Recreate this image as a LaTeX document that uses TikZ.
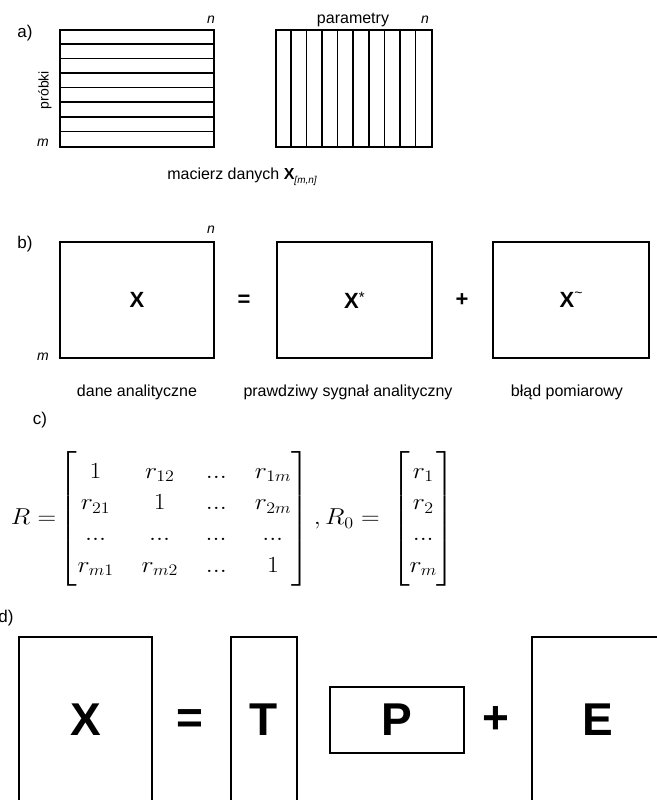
\RequirePackage{fix-cm}
\documentclass[tikz,border=0pt]{standalone}
\usepackage{amsmath}
\usepackage[no-math]{fontspec}
\setmainfont{Liberation Sans}
\usetikzlibrary{positioning}

\begin{document}
\begin{tikzpicture}[
  x=1pt, y=-1pt,
  font=\fontsize{16}{18}\selectfont,
  mat/.style={rectangle, draw=black, line width=1.7pt, inner sep=0pt},
  strip/.style={line width=1.6pt},
  tag/.style={font=\fontsize{17}{19}\selectfont},
  dim/.style={font=\fontsize{14}{16}\selectfont\itshape},
  sym/.style={font=\fontsize{22}{24}\selectfont\bfseries},
  big/.style={font=\fontsize{46}{50}\selectfont\bfseries},
]
\useasboundingbox (0,0) rectangle (656,800);

% a) data matrix, rows and columns
\node[tag] (ta) at (25,33) {a)};
\node[mat, minimum width=154pt, minimum height=117pt] (rows) at (137,88.5) {};
\foreach \k in {1,...,7}
  \draw[strip] ([yshift=-\k*14.625pt]rows.north west) -- ([yshift=-\k*14.625pt]rows.north east);
\node[mat, minimum width=156pt, minimum height=117pt] (cols) at (354,88.5) {};
\foreach \k in {1,...,9}
  \draw[strip] ([xshift=\k*15.6pt]cols.north west) -- ([xshift=\k*15.6pt]cols.south west);

\node[dim] (na) at (211,20) {n};
\node[dim] (ma) at (43,143) {m};
\node[rotate=90, font=\fontsize{14}{16}\selectfont] (probki) at (45,90) {próbki};
\node (par) at (353,20) {parametry};
\node[dim] (nc) at (425,20) {n};
\node (capa) at (242,177) {macierz danych \textbf{X}\raisebox{-0.5ex}{\fontsize{10}{11}\selectfont\itshape [m,n]}};

% b) decomposition
\node[tag] (tb) at (25,244) {b)};
\node[mat, sym, minimum width=154pt, minimum height=116pt] (X) at (137,300) {X};
\node[mat, sym, minimum width=155pt, minimum height=116pt] (Xs) at (354.5,300)
  {X\raisebox{0.5ex}{\fontsize{15}{16}\selectfont\mdseries *}};
\node[mat, sym, minimum width=156pt, minimum height=116pt] (Xt) at (571,300)
  {X\raisebox{0.9ex}{\fontsize{14}{15}\selectfont\mdseries \textasciitilde}};
\node[sym] (eqb) at (244,301) {=};
\node[sym] (plb) at (462,300) {+};
\node[dim] (nX) at (211,230) {n};
\node[dim] (mX) at (43,357) {m};
\node (lx) at (137,392) {dane analityczne};
\node (lxs) at (348,392) {prawdziwy sygnał analityczny};
\node (lxt) at (567,392) {błąd pomiarowy};

% c) correlation matrices
\node[tag] (tc) at (40,420) {c)};
\node[anchor=west, xscale=1.12, transform shape, font=\fontsize{23}{25}\selectfont] (eq) at (7,519)
  {\arraycolsep=12.5pt\renewcommand\arraystretch{1.25}$R=\mkern-3mu\begin{bmatrix}
     1 & r_{12} & ... & r_{1m}\\
     r_{21} & 1 & ... & r_{2m}\\
     ... & ... & ... & ...\\
     r_{m1} & r_{m2} & ... & 1
   \end{bmatrix}, R_0=\,{\arraycolsep=3pt\begin{bmatrix}
     r_1\\ r_2\\ ...\\ r_m
   \end{bmatrix}}$};

% d) PCA model
\node[tag] (td) at (6,618) {d)};
\node[mat, big, line width=2pt, minimum width=133pt, minimum height=166pt] (Xd) at (85.5,720) {X};
\node[big] (eqd) at (190,722) {=};
\node[mat, big, line width=2pt, minimum width=66pt, minimum height=166pt] (T) at (264,720) {T};
\node[mat, big, line width=2pt, minimum width=134pt, minimum height=66pt] (P) at (397,720) {P};
\node[big] (pld) at (496,720) {+};
\node[mat, big, line width=2pt, minimum width=132pt, minimum height=166pt] (E) at (598,720) {E};

\end{tikzpicture}
\end{document}
